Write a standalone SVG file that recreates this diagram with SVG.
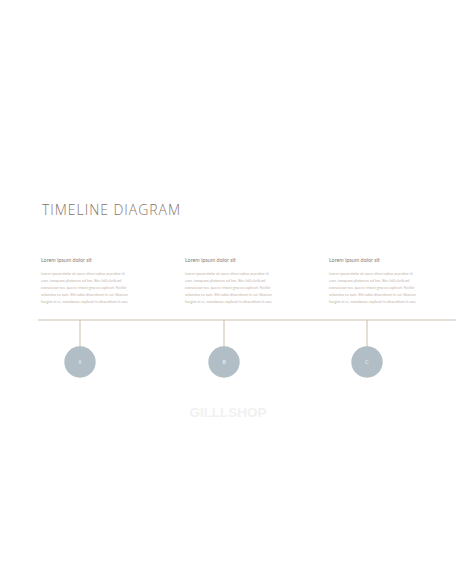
<svg xmlns="http://www.w3.org/2000/svg" width="456" height="586" viewBox="0 0 456 586">
<style>
.title{font-family:"Open Sans","Liberation Sans",sans-serif;font-weight:300;font-size:14px;fill:#867468;letter-spacing:1px}
.sub{font-family:"Lato","Liberation Sans",sans-serif;font-size:5.4px;fill:#8a7d74}
.body{font-family:"Lato","Liberation Sans",sans-serif;font-size:3.7px;fill:#bfb2a8}
.conn{stroke:#cbbfb1;stroke-width:1;fill:none}
.node circle{fill:#b2bec6}
.node text{font-family:"Lato","Liberation Sans",sans-serif;font-size:5px;fill:#eef1f3;text-anchor:middle}
.wm{font-family:"Liberation Sans",sans-serif;font-weight:bold;font-size:13.5px;fill:#f1f1f1;text-anchor:middle}
</style>
<rect width="456" height="586" fill="#ffffff"/>
<text class="title" x="42" y="215" textLength="139">TIMELINE DIAGRAM</text>
<g id="col1">
<text class="sub" x="41" y="262">Lorem ipsum dolor sit</text>
<text class="body" x="41" y="274.5">Lorem ipsum dolor sit amet, diam iudico assentior id</text>
<text class="body" x="41" y="281.5">eam, tamquam platonem ad has. Nec falli eleifend</text>
<text class="body" x="41" y="288.5">consetetur nec, quo te tritani graeco explicari. Facilisi</text>
<text class="body" x="41" y="295.5">urbanitas cu sum. Elit nobis dissentiunt in est. Gravem</text>
<text class="body" x="41" y="302.5">fuugiat ut ei, mandamus explicari in dissentiunt in usu.</text>
</g>
<g id="col2">
<text class="sub" x="185" y="262">Lorem ipsum dolor sit</text>
<text class="body" x="185" y="274.5">Lorem ipsum dolor sit amet, diam iudico assentior id</text>
<text class="body" x="185" y="281.5">eam, tamquam platonem ad has. Nec falli eleifend</text>
<text class="body" x="185" y="288.5">consetetur nec, quo te tritani graeco explicari. Facilisi</text>
<text class="body" x="185" y="295.5">urbanitas cu sum. Elit nobis dissentiunt in est. Gravem</text>
<text class="body" x="185" y="302.5">fuugiat ut ei, mandamus explicari in dissentiunt in usu.</text>
</g>
<g id="col3">
<text class="sub" x="329" y="262">Lorem ipsum dolor sit</text>
<text class="body" x="329" y="274.5">Lorem ipsum dolor sit amet, diam iudico assentior id</text>
<text class="body" x="329" y="281.5">eam, tamquam platonem ad has. Nec falli eleifend</text>
<text class="body" x="329" y="288.5">consetetur nec, quo te tritani graeco explicari. Facilisi</text>
<text class="body" x="329" y="295.5">urbanitas cu sum. Elit nobis dissentiunt in est. Gravem</text>
<text class="body" x="329" y="302.5">fuugiat ut ei, mandamus explicari in dissentiunt in usu.</text>
</g>
<g id="connectors">
<line class="conn" x1="38" y1="320" x2="456" y2="320"/>
<line class="conn" x1="80" y1="320" x2="80" y2="347"/>
<line class="conn" x1="224" y1="320" x2="224" y2="347"/>
<line class="conn" x1="367" y1="320" x2="367" y2="347"/>
</g>
<g id="nodeA" class="node"><circle cx="80" cy="362" r="15.7"/><text x="80" y="364">A</text></g>
<g id="nodeB" class="node"><circle cx="224" cy="362" r="15.7"/><text x="224" y="364">B</text></g>
<g id="nodeC" class="node"><circle cx="367" cy="362" r="15.7"/><text x="367" y="364">C</text></g>
<text class="wm" x="228" y="417">GILLLSHOP</text>
</svg>
